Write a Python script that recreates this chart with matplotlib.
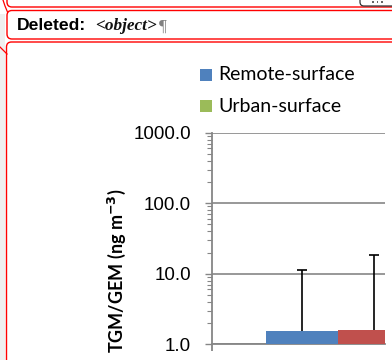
import numpy as np
import matplotlib
matplotlib.use("Agg")
import matplotlib.pyplot as plt
from matplotlib.patches import FancyBboxPatch, Rectangle
from matplotlib.ticker import LogLocator, FixedFormatter

# chart data (one visible category, two series)
series_names = ["Remote-surface", "Urban-surface"]
legend_colors = ["#4F81BD", "#9BBB59"]
bar_labels = ["Remote-surface", "Urban-surface"]
bar_values = [1.55, 1.60]
bar_err_plus = [9.65, 17.1]
bar_colors = ["#4F81BD", "#C0504D"]
y_ticks = [1, 10, 100, 1000]
y_tick_labels = ["1.0", "10.0", "100.0", "1000.0"]

W, H = 392, 360
DPI = 100
GRAY = "#868686"
RED = "#FF0000"

fig = plt.figure(figsize=(W / DPI, H / DPI), dpi=DPI)
fig.patch.set_facecolor("white")


def px_box(x0, y0, x1, y1):
    # pixel box (y downwards) -> figure fraction rect
    return [x0 / W, 1 - y1 / H, (x1 - x0) / W, (y1 - y0) / H]


# overlay for the Word balloons
frame = fig.add_axes([0, 0, 1, 1])
frame.set_xlim(0, W)
frame.set_ylim(H, 0)
frame.axis("off")
frame.set_zorder(0)

frame.add_patch(Rectangle((0, 14), 5, H, facecolor="#EFEFEF", edgecolor="none"))

# balloons
for (x0, y0, x1, y1) in [(7, -40, 420, 7), (7, 10.5, 420, 39), (6.5, 42, 420, 420)]:
    frame.add_patch(FancyBboxPatch((x0, y0), x1 - x0, y1 - y0,
                                   boxstyle="round,pad=0,rounding_size=5",
                                   facecolor="white", edgecolor=RED, lw=1.0))
# connector lines
frame.plot([3, 5, 7.5], [0, 6, 12], color=RED, lw=0.9)
frame.plot([0, 7], [47, 54], color=RED, lw=0.9)

# "..." button
frame.add_patch(FancyBboxPatch((360, -20), 60, 26, boxstyle="round,pad=0,rounding_size=4",
                               facecolor="white", edgecolor="#333333", lw=0.9))
for dx in [373, 377.5, 382]:
    frame.add_patch(Rectangle((dx - 0.8, 1.2), 1.6, 1.6, facecolor="#666666", edgecolor="none"))

frame.text(17, 30.5, "Deleted:", fontfamily="Liberation Sans", fontweight="bold",
           fontsize=12.6, va="baseline", ha="left", color="black")
frame.text(95, 30.5, "<object>", fontfamily="Liberation Serif", fontstyle="italic",
           fontweight="bold", fontsize=12.4, va="baseline", ha="left", color="#111111")
frame.text(158.5, 30.5, "\u00b6", fontfamily="Liberation Serif", fontsize=12.4,
           va="baseline", ha="left", color="#808080")

# legend (drawn as in the Excel chart)
for i, (name, col) in enumerate(zip(series_names, legend_colors)):
    yc = 75 + i * 31
    frame.add_patch(Rectangle((200, yc - 6), 12, 12, facecolor=col, edgecolor="none"))
    frame.text(218, yc, name, fontfamily="Lato", fontsize=14, va="center", ha="left",
               color="black")

frame.text(117, 270.5, "TGM/GEM (ng m$\\mathbf{^{-3}}$)", rotation=90, fontfamily="Lato",
           fontweight="bold", fontsize=13, ha="center", va="center", color="black")

# chart axes
ax = fig.add_axes(px_box(212, 132.7, 385, 344.3))
ax.set_zorder(2)
ax.patch.set_alpha(0)
bar_w = 0.4
x = np.arange(len(bar_values)) * bar_w - bar_w / 2
ax.bar(x, bar_values, width=bar_w, color=bar_colors, zorder=3)
eb = ax.errorbar(x, bar_values, yerr=[np.zeros(len(bar_err_plus)), bar_err_plus], fmt="none",
                 ecolor="black", elinewidth=1.2, capsize=3.4, capthick=1.2, zorder=4)
# only the upper caps are shown
eb[1][0].set_visible(False)

ax.set_yscale("log")
ax.set_ylim(1, 1000)
ax.set_xlim(-0.701, 0.264)
ax.yaxis.set_major_locator(matplotlib.ticker.FixedLocator(y_ticks))
ax.yaxis.set_major_formatter(FixedFormatter(y_tick_labels))
ax.yaxis.set_minor_locator(LogLocator(base=10, subs=np.arange(2, 10)))
ax.yaxis.set_minor_formatter(matplotlib.ticker.NullFormatter())
ax.grid(axis="y", which="major", color=GRAY, lw=1.2, zorder=0)
ax.set_axisbelow(True)

for s in ["top", "right"]:
    ax.spines[s].set_visible(False)
for s in ["left", "bottom"]:
    ax.spines[s].set_color(GRAY)
    ax.spines[s].set_linewidth(1.3)

ax.tick_params(axis="y", which="major", direction="out", length=5, width=1, color=GRAY,
               labelsize=13.5, pad=10)
ax.tick_params(axis="y", which="minor", direction="out", length=3.3, width=0.8, color=GRAY)
for lab in ax.get_yticklabels():
    lab.set_fontfamily("Liberation Sans")
ax.set_xticks([-0.701])
ax.set_xticklabels([""])
ax.tick_params(axis="x", direction="out", length=5.3, width=1.3, color=GRAY)

fig.savefig("out.png", dpi=DPI)
